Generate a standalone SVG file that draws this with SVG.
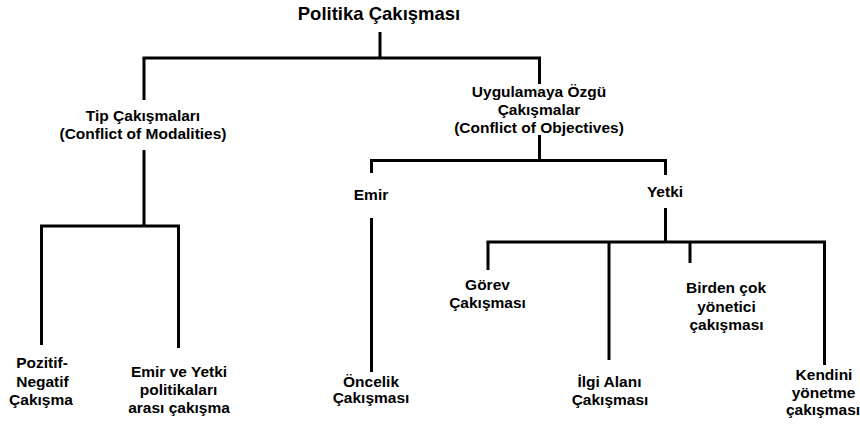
<svg xmlns="http://www.w3.org/2000/svg" width="860" height="425" viewBox="0 0 860 425">
<style>
text{font-family:"Liberation Sans",Arial,sans-serif;font-weight:bold;font-size:15.5px;fill:#000;text-anchor:middle}
.title{font-size:18.5px}
.c line{stroke:#000;stroke-width:3;stroke-linecap:butt}
</style>
<rect width="860" height="425" fill="#fff"/>
<g class="c" id="connectors">
<line x1="380" y1="32" x2="380" y2="58"/>
<line x1="142.5" y1="58" x2="541" y2="58"/>
<line x1="144" y1="58" x2="144" y2="100"/>
<line x1="539.5" y1="58" x2="539.5" y2="84"/>
<line x1="144" y1="150" x2="144" y2="226"/>
<line x1="40" y1="226" x2="180" y2="226"/>
<line x1="41.5" y1="226" x2="41.5" y2="345"/>
<line x1="178.5" y1="226" x2="178.5" y2="348"/>
<line x1="539.5" y1="135" x2="539.5" y2="160.5"/>
<line x1="370" y1="160.5" x2="667" y2="160.5"/>
<line x1="371.5" y1="160.5" x2="371.5" y2="173"/>
<line x1="665.5" y1="160.5" x2="665.5" y2="175"/>
<line x1="665.5" y1="208" x2="665.5" y2="242"/>
<line x1="486.5" y1="242" x2="826" y2="242"/>
<line x1="488" y1="242" x2="488" y2="270"/>
<line x1="609" y1="242" x2="609" y2="360"/>
<line x1="690" y1="242" x2="690" y2="263"/>
<line x1="824.5" y1="242" x2="824.5" y2="365"/>
<line x1="371.5" y1="218" x2="371.5" y2="372"/>
</g>
<g id="root"><text class="title" x="379" y="19.5">Politika Çakışması</text></g>
<g id="tip"><text x="143" y="120.7">Tip Çakışmaları</text><text x="143" y="138.5">(Conflict of Modalities)</text></g>
<g id="uygulama"><text x="539" y="96.7">Uygulamaya Özgü</text><text x="539" y="115">Çakışmalar</text><text x="539" y="133">(Conflict of Objectives)</text></g>
<g id="emir"><text x="371" y="200">Emir</text></g>
<g id="yetki"><text x="665" y="197">Yetki</text></g>
<g id="pozitif"><text x="42" y="368.3">Pozitif-</text><text x="42.5" y="386.7">Negatif</text><text x="41" y="405">Çakışma</text></g>
<g id="emiryetki"><text x="179" y="376.7">Emir ve Yetki</text><text x="178.5" y="395">politikaları</text><text x="179" y="413.3">arası çakışma</text></g>
<g id="oncelik"><text x="371" y="386.7">Öncelik</text><text x="371" y="403.3">Çakışması</text></g>
<g id="gorev"><text x="487.5" y="290">Görev</text><text x="487.5" y="308.3">Çakışması</text></g>
<g id="ilgi"><text x="609.5" y="386.7">İlgi Alanı</text><text x="610" y="405">Çakışması</text></g>
<g id="birden"><text x="726" y="293.3">Birden çok</text><text x="726.5" y="311.7">yönetici</text><text x="726.5" y="330">çakışması</text></g>
<g id="kendini"><text x="824" y="380">Kendini</text><text x="823.5" y="398.3">yönetme</text><text x="823" y="415">çakışması</text></g>
</svg>
